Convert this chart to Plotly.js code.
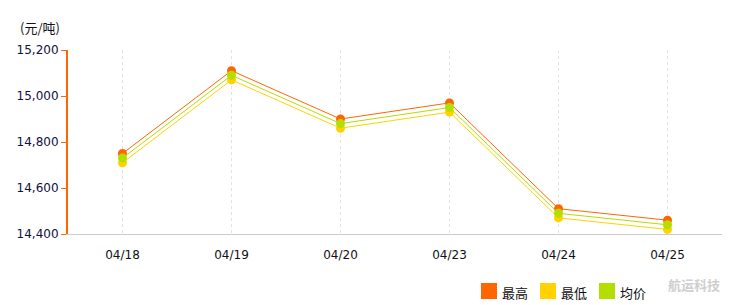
<!DOCTYPE html>
<html>
<head>
<meta charset="utf-8">
<script src="https://cdn.plot.ly/plotly-3.0.1.min.js"></script>
<style>html,body{margin:0;padding:0;background:#fff;}#chart{width:733px;height:305px;}</style>
</head>
<body>
<div id="chart"></div>
<script>
const dates = ["04/18", "04/19", "04/20", "04/23", "04/24", "04/25"];
const highPrice = [14750, 15110, 14900, 14970, 14510, 14460];
const lowPrice = [14710, 15070, 14860, 14930, 14470, 14420];
const avgPrice = [14730, 15090, 14880, 14950, 14490, 14440];
const seriesNames = ["最高", "最低", "均价"];
const seriesColors = ["#FF6600", "#FFD200", "#B3DE00"];
const yTicks = [14400, 14600, 14800, 15000, 15200];

const font = "DejaVu Sans, Verdana, sans-serif";
const cjk = "Noto Sans CJK SC, sans-serif";

function mk(y, i) {
  return {
    x: dates, y: y, type: "scatter", mode: "lines+markers", name: seriesNames[i],
    line: {color: seriesColors[i], width: 1},
    marker: {color: seriesColors[i], size: 9},
    showlegend: false, hoverinfo: "x+y"
  };
}
const data = [mk(highPrice, 0), mk(lowPrice, 1), mk(avgPrice, 2)];

const shapes = [];
const annotations = [
  {text: "(元/吨)", xref: "paper", yref: "paper", x: -0.077, y: 1.125, xanchor: "left", yanchor: "middle", showarrow: false, font: {family: cjk, size: 13, color: "#111"}},
  {text: "<b>航运科技</b>", xref: "paper", yref: "paper", x: 0.957, y: -0.275, xanchor: "center", yanchor: "middle", showarrow: false, font: {family: cjk, size: 13, color: "#cfcfcf"}}
];
const legX = [481, 540, 599];
seriesNames.forEach((n, i) => {
  const x0 = (legX[i] - 68) / 654;
  shapes.push({type: "rect", xref: "paper", yref: "paper", x0: x0, x1: x0 + 16 / 654, y0: (234 - 299) / 184, y1: (234 - 283) / 184, fillcolor: seriesColors[i], line: {width: 0}});
  annotations.push({text: n, xref: "paper", yref: "paper", x: x0 + 19 / 654, y: (234 - 292) / 184, xanchor: "left", yanchor: "middle", showarrow: false, font: {family: cjk, size: 13, color: "#111"}});
});

const layout = {
  width: 733, height: 305,
  margin: {l: 68, r: 11, t: 50, b: 71},
  paper_bgcolor: "#fff", plot_bgcolor: "#fff",
  showlegend: false,
  xaxis: {
    type: "category", range: [-0.5, 5.5], showgrid: true, gridcolor: "#e2e2e2", griddash: "3px,3px", gridwidth: 1,
    showline: true, linecolor: "#cccccc", linewidth: 1, ticks: "", zeroline: false,
    tickfont: {family: font, size: 12, color: "#111"}, ticklabelstandoff: 10
  },
  yaxis: {
    range: [14400, 15200], tickvals: yTicks, tickformat: ",", showgrid: false, zeroline: false,
    showline: true, linecolor: "#FF6600", linewidth: 2, ticks: "outside", ticklen: 5, tickcolor: "#FF6600", tickwidth: 1,
    tickfont: {family: font, size: 12, color: "#101040"}
  },
  shapes: shapes, annotations: annotations
};
Plotly.newPlot("chart", data, layout, {displayModeBar: false, staticPlot: true});
</script>
</body>
</html>
